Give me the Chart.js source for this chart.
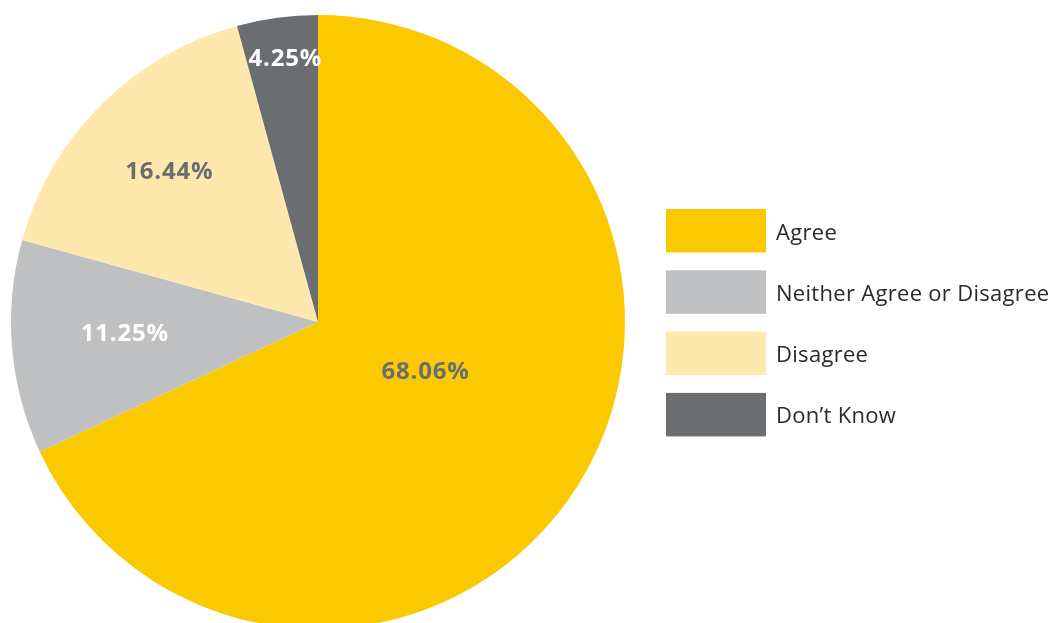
<!DOCTYPE html>
<html>
<head>
<meta charset="utf-8">
<script src="https://cdn.jsdelivr.net/npm/chart.js@4/dist/chart.umd.min.js"></script>
<style>
  html, body { margin: 0; padding: 0; background: #fff; overflow: hidden; }
  #wrap { position: absolute; left: 0; top: 0; width: 1053px; height: 660px; }
</style>
</head>
<body>
<div id="wrap"><canvas id="c"></canvas></div>
<script>
const categories = ['Agree', 'Neither Agree or Disagree', 'Disagree', 'Don\u2019t Know']
const shares = [68.06, 11.25, 16.44, 4.25]

const colors = ['#FAC900', '#BFC0C2', '#FEE8AE', '#6B6E71']
const labelColors = ['#6B6E71', '#ffffff', '#6B6E71', '#ffffff']
// [fraction of radius, angle shift in degrees] for each value label
const labelPlace = [[0.385, -8], [0.63, 1.5], [0.69, 0.3], [0.865, 0.6]]

const sliceLabels = {
  id: 'sliceLabels',
  afterDatasetsDraw (chart) {
    const ctx = chart.ctx
    const meta = chart.getDatasetMeta(0)
    ctx.save()
    ctx.font = 'bold 24px "Open Sans", sans-serif'
    ctx.letterSpacing = '0.8px'
    ctx.textAlign = 'center'
    ctx.textBaseline = 'middle'
    meta.data.forEach((arc, i) => {
      const p = arc.getProps(['x', 'y', 'startAngle', 'endAngle', 'outerRadius'], true)
      const mid = (p.startAngle + p.endAngle) / 2 + labelPlace[i][1] * Math.PI / 180
      const r = p.outerRadius * labelPlace[i][0]
      ctx.fillStyle = labelColors[i]
      ctx.fillText(shares[i].toFixed(2) + '%', p.x + Math.cos(mid) * r, p.y + Math.sin(mid) * r + 1)
    })
    ctx.restore()
  }
}

const sideLegend = {
  id: 'sideLegend',
  afterDraw (chart) {
    const ctx = chart.ctx
    const area = chart.chartArea
    const x0 = area.right + 41
    const top = 209
    const step = 61.3
    ctx.save()
    ctx.font = '22px "Open Sans", sans-serif'
    ctx.letterSpacing = '0.3px'
    ctx.textBaseline = 'alphabetic'
    ctx.textAlign = 'left'
    chart.data.labels.forEach((label, i) => {
      const y = top + i * step
      ctx.fillStyle = colors[i]
      ctx.fillRect(x0, y, 100, 43.5)
      ctx.fillStyle = '#2b2a29'
      ctx.fillText(label, x0 + 110, y + 30.5)
    })
    ctx.restore()
  }
}

new Chart(document.getElementById('c'), {
  type: 'pie',
  data: {
    labels: categories,
    datasets: [{
      data: shares,
      backgroundColor: colors,
      borderWidth: 0
    }]
  },
  options: {
    responsive: true,
    maintainAspectRatio: false,
    animation: false,
    layout: { padding: { left: 11, top: 15, right: 428, bottom: 31 } },
    plugins: {
      legend: { display: false },
      tooltip: { enabled: false }
    }
  },
  plugins: [sliceLabels, sideLegend]
})
</script>
</body>
</html>
